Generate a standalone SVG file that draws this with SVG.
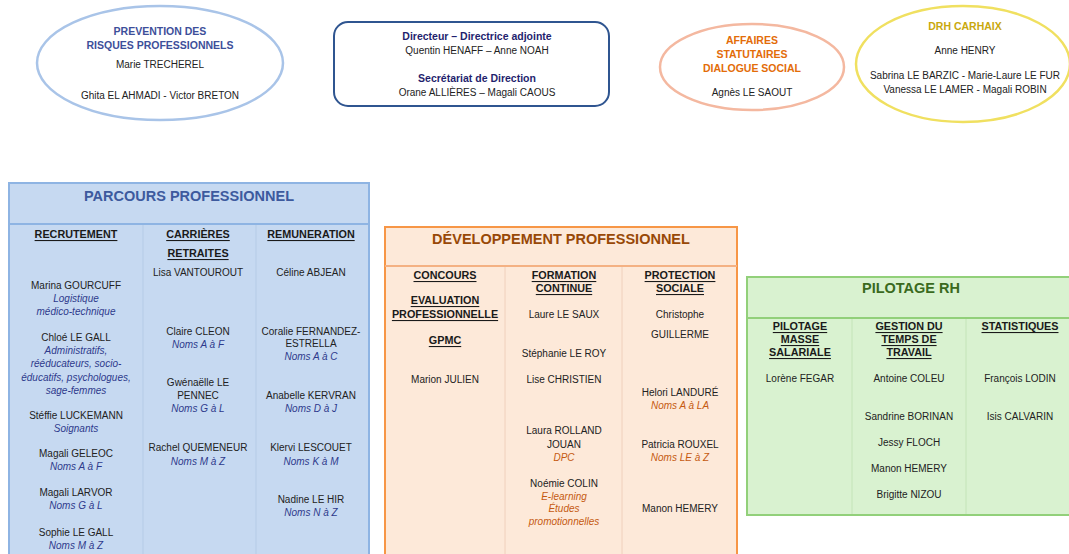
<svg xmlns="http://www.w3.org/2000/svg" width="1069" height="554" viewBox="0 0 1069 554">
<style>
text{font-family:"Liberation Sans",Arial,sans-serif;font-size:10px;fill:#222;text-anchor:middle;dominant-baseline:central}
.t{font-weight:bold;font-size:14.5px}
.b{font-weight:bold;font-size:10.5px}
.h{font-weight:bold;font-size:10.8px;text-decoration:underline;fill:#1a1a1a}
.ib{font-style:italic;fill:#2e3a8c}
.io{font-style:italic;fill:#c55a11}
</style>
<rect width="1069" height="554" fill="#ffffff"/>
<g id="prevention">
<ellipse cx="160" cy="63" rx="123" ry="57" fill="#fff" stroke="#a9c4e8" stroke-width="2.5"/>
<text x="160" y="31" class="b" style="fill:#3d4f9a">PREVENTION DES</text>
<text x="160" y="45" class="b" style="fill:#3d4f9a">RISQUES PROFESSIONNELS</text>
<text x="160" y="64">Marie TRECHEREL</text>
<text x="160" y="95">Ghita EL AHMADI - Victor BRETON</text>
</g>
<g id="direction">
<rect x="334" y="22" width="275" height="84" rx="14" fill="#fff" stroke="#2f5590" stroke-width="2"/>
<text x="477" y="36" class="b" style="fill:#1f1f6e">Directeur – Directrice adjointe</text>
<text x="477" y="50">Quentin HENAFF – Anne NOAH</text>
<text x="477" y="78" class="b" style="fill:#1f1f6e">Secrétariat de Direction</text>
<text x="477" y="92">Orane ALLIÈRES – Magali CAOUS</text>
</g>
<g id="affaires">
<ellipse cx="752" cy="67" rx="92" ry="43" fill="#fff" stroke="#f4b8a0" stroke-width="2.5"/>
<text x="752" y="40" class="b" style="fill:#e36c09">AFFAIRES</text>
<text x="752" y="54" class="b" style="fill:#e36c09">STATUTAIRES</text>
<text x="752" y="68" class="b" style="fill:#e36c09">DIALOGUE SOCIAL</text>
<text x="752" y="92">Agnès LE SAOUT</text>
</g>
<g id="drh">
<ellipse cx="963" cy="64" rx="107" ry="58" fill="#fff" stroke="#f0e060" stroke-width="2.5"/>
<text x="965" y="26" class="b" style="fill:#c9a80d">DRH CARHAIX</text>
<text x="965" y="50">Anne HENRY</text>
<text x="965" y="75">Sabrina LE BARZIC - Marie-Laure LE FUR</text>
<text x="965" y="89">Vanessa LE LAMER - Magali ROBIN</text>
</g>
<g id="parcours">
<rect x="9" y="183" width="360" height="380" fill="#c6d9f1" stroke="#8eb4e3" stroke-width="2"/>
<line x1="9" y1="224" x2="369" y2="224" stroke="#8eb4e3" stroke-width="2"/>
<line x1="143" y1="225" x2="143" y2="560" stroke="#b5cbe6"/>
<line x1="256" y1="225" x2="256" y2="560" stroke="#b5cbe6"/>
<text x="189" y="196" class="t" style="fill:#3d5a9e">PARCOURS PROFESSIONNEL</text>
<text x="76" y="234" class="h">RECRUTEMENT</text>
<text x="198" y="234" class="h">CARRIÈRES</text>
<text x="198" y="253" class="h">RETRAITES</text>
<text x="311" y="234" class="h">REMUNERATION</text>
<text x="76" y="285">Marina GOURCUFF</text>
<text x="76" y="298" class="ib">Logistique</text>
<text x="76" y="311" class="ib">médico-technique</text>
<text x="76" y="337">Chloé LE GALL</text>
<text x="76" y="350" class="ib">Administratifs,</text>
<text x="76" y="363" class="ib">rééducateurs, socio-</text>
<text x="76" y="377" class="ib">éducatifs, psychologues,</text>
<text x="76" y="390" class="ib">sage-femmes</text>
<text x="76" y="415">Stéffie LUCKEMANN</text>
<text x="76" y="428" class="ib">Soignants</text>
<text x="76" y="453">Magali GELEOC</text>
<text x="76" y="466" class="ib">Noms A à F</text>
<text x="76" y="492">Magali LARVOR</text>
<text x="76" y="505" class="ib">Noms G à L</text>
<text x="76" y="532">Sophie LE GALL</text>
<text x="76" y="545" class="ib">Noms M à Z</text>
<text x="198" y="272">Lisa VANTOUROUT</text>
<text x="198" y="331">Claire CLEON</text>
<text x="198" y="344" class="ib">Noms A à F</text>
<text x="198" y="382">Gwénaëlle LE</text>
<text x="198" y="395">PENNEC</text>
<text x="198" y="408" class="ib">Noms G à L</text>
<text x="198" y="447">Rachel QUEMENEUR</text>
<text x="198" y="461" class="ib">Noms M à Z</text>
<text x="311" y="272">Céline ABJEAN</text>
<text x="311" y="331">Coralie FERNANDEZ-</text>
<text x="311" y="343">ESTRELLA</text>
<text x="311" y="356" class="ib">Noms A à C</text>
<text x="311" y="395">Anabelle KERVRAN</text>
<text x="311" y="408" class="ib">Noms D à J</text>
<text x="311" y="447">Klervi LESCOUET</text>
<text x="311" y="461" class="ib">Noms K à M</text>
<text x="311" y="499">Nadine LE HIR</text>
<text x="311" y="512" class="ib">Noms N à Z</text>
</g>
<g id="developpement">
<rect x="385" y="227" width="352" height="336" fill="#fde9d9" stroke="#f79646" stroke-width="2"/>
<line x1="385" y1="266" x2="737" y2="266" stroke="#f4b183" stroke-width="2"/>
<line x1="505" y1="267" x2="505" y2="560" stroke="#f0d0bc"/>
<line x1="622" y1="267" x2="622" y2="560" stroke="#f0d0bc"/>
<text x="561" y="239" class="t" style="fill:#984807">DÉVELOPPEMENT PROFESSIONNEL</text>
<text x="445" y="275" class="h">CONCOURS</text>
<text x="445" y="300" class="h">EVALUATION</text>
<text x="445" y="314" class="h">PROFESSIONNELLE</text>
<text x="445" y="340" class="h">GPMC</text>
<text x="445" y="379">Marion JULIEN</text>
<text x="564" y="275" class="h">FORMATION</text>
<text x="564" y="288" class="h">CONTINUE</text>
<text x="564" y="314">Laure LE SAUX</text>
<text x="564" y="353">Stéphanie LE ROY</text>
<text x="564" y="379">Lise CHRISTIEN</text>
<text x="564" y="430">Laura ROLLAND</text>
<text x="564" y="444">JOUAN</text>
<text x="564" y="457" class="io">DPC</text>
<text x="564" y="483">Noémie COLIN</text>
<text x="564" y="496" class="io">E-learning</text>
<text x="564" y="508" class="io">Études</text>
<text x="564" y="521" class="io">promotionnelles</text>
<text x="680" y="275" class="h">PROTECTION</text>
<text x="680" y="288" class="h">SOCIALE</text>
<text x="680" y="314">Christophe</text>
<text x="680" y="334">GUILLERME</text>
<text x="680" y="392">Helori LANDURÉ</text>
<text x="680" y="405" class="io">Noms A à LA</text>
<text x="680" y="444">Patricia ROUXEL</text>
<text x="680" y="457" class="io">Noms LE à Z</text>
<text x="680" y="508">Manon HEMERY</text>
</g>
<g id="pilotage">
<rect x="747" y="277" width="330" height="238" fill="#d9f2d0" stroke="#92d07a" stroke-width="2"/>
<line x1="747" y1="318" x2="1077" y2="318" stroke="#92d07a" stroke-width="2"/>
<line x1="852" y1="319" x2="852" y2="514" stroke="#c4e4b8"/>
<line x1="966" y1="319" x2="966" y2="514" stroke="#c4e4b8"/>
<text x="911" y="288" class="t" style="fill:#3a6a1e">PILOTAGE RH</text>
<text x="800" y="326" class="h">PILOTAGE</text>
<text x="800" y="339" class="h">MASSE</text>
<text x="800" y="352" class="h">SALARIALE</text>
<text x="800" y="378">Lorène FEGAR</text>
<text x="909" y="326" class="h">GESTION DU</text>
<text x="909" y="339" class="h">TEMPS DE</text>
<text x="909" y="352" class="h">TRAVAIL</text>
<text x="909" y="378">Antoine COLEU</text>
<text x="909" y="416">Sandrine BORINAN</text>
<text x="909" y="442">Jessy FLOCH</text>
<text x="909" y="468">Manon HEMERY</text>
<text x="909" y="494">Brigitte NIZOU</text>
<text x="1020" y="326" class="h">STATISTIQUES</text>
<text x="1020" y="378">François LODIN</text>
<text x="1020" y="416">Isis CALVARIN</text>
</g>
<g id="connectors"/>
</svg>
